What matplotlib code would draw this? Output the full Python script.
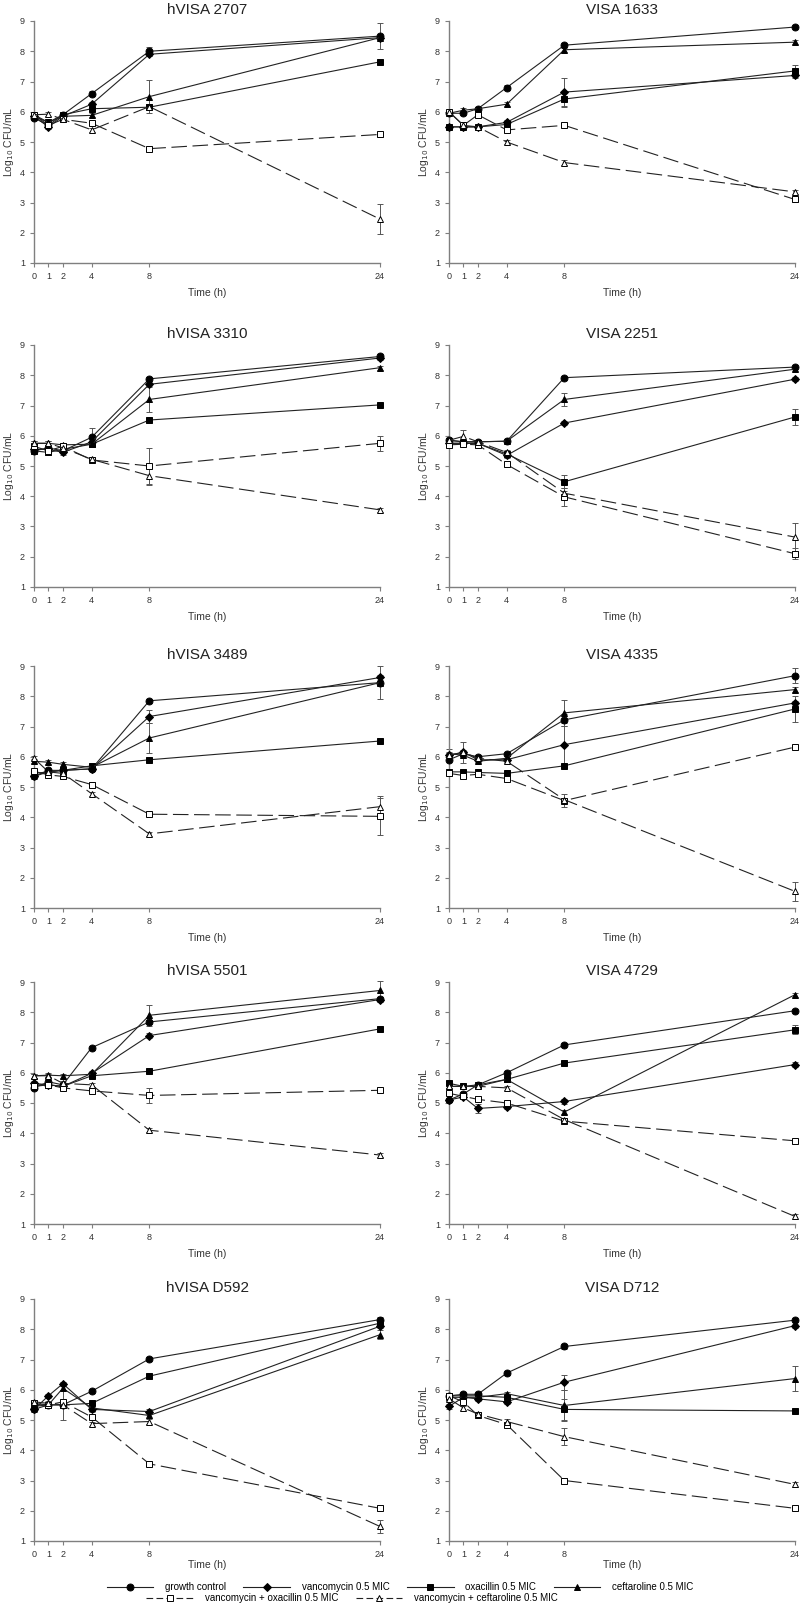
import matplotlib
matplotlib.use('Agg')
import matplotlib.pyplot as plt
from matplotlib.lines import Line2D

plt.rcParams['font.family'] = ['Liberation Sans', 'DejaVu Sans']

times = [0, 1, 2, 4, 8, 24]
titles = ['hVISA 2707', 'VISA 1633', 'hVISA 3310', 'VISA 2251', 'hVISA 3489',
          'VISA 4335', 'hVISA 5501', 'VISA 4729', 'hVISA D592', 'VISA D712']

growth = [[5.8, 5.55, 5.9, 6.6, 8.0, 8.5],
          [5.95, 5.95, 6.1, 6.8, 8.2, 8.8],
          [5.5, 5.6, 5.5, 5.95, 7.88, 8.62],
          [5.85, 5.8, 5.8, 5.82, 7.92, 8.27],
          [5.35, 5.55, 5.55, 5.6, 7.85, 8.45],
          [5.9, 6.1, 6.0, 6.1, 7.22, 8.68],
          [5.5, 5.7, 5.6, 6.83, 7.68, 8.45],
          [5.1, 5.3, 5.6, 6.0, 6.92, 8.05],
          [5.35, 5.5, 5.5, 5.95, 7.02, 8.32],
          [5.8, 5.85, 5.85, 6.55, 7.43, 8.3]]

vanco = [[5.85, 5.5, 5.85, 6.25, 7.9, 8.45],
         [5.5, 5.5, 5.5, 5.65, 6.65, 7.2],
         [5.55, 5.55, 5.45, 5.8, 7.7, 8.57],
         [5.75, 5.75, 5.75, 5.35, 6.42, 7.87],
         [5.35, 5.5, 5.55, 5.6, 7.33, 8.62],
         [6.05, 6.15, 5.9, 5.9, 6.4, 7.78],
         [5.65, 5.6, 5.55, 5.98, 7.23, 8.42],
         [5.1, 5.2, 4.82, 4.88, 5.05, 6.27],
         [5.35, 5.8, 6.2, 5.35, 5.28, 8.1],
         [5.45, 5.75, 5.7, 5.6, 6.25, 8.12]]

oxa = [[5.85, 5.65, 5.9, 6.1, 6.15, 7.65],
       [5.5, 5.5, 5.5, 5.58, 6.42, 7.35],
       [5.5, 5.45, 5.55, 5.72, 6.52, 7.02],
       [5.75, 5.75, 5.75, 5.4, 4.48, 6.62],
       [5.45, 5.5, 5.55, 5.7, 5.9, 6.52],
       [5.5, 5.5, 5.48, 5.45, 5.7, 7.58],
       [5.6, 5.6, 5.55, 5.9, 6.05, 7.45],
       [5.65, 5.55, 5.6, 5.78, 6.32, 7.42],
       [5.5, 5.5, 5.5, 5.55, 6.45, 8.2],
       [5.8, 5.8, 5.8, 5.75, 5.35, 5.3]]

cef = [[5.9, 5.65, 5.85, 5.88, 6.5, 8.45],
       [5.95, 6.05, 6.1, 6.25, 8.05, 8.3],
       [5.75, 5.75, 5.7, 5.72, 7.2, 8.25],
       [5.85, 5.8, 5.8, 5.82, 7.2, 8.2],
       [5.85, 5.82, 5.75, 5.65, 6.62, 8.45],
       [6.1, 6.05, 5.85, 5.95, 7.45, 8.22],
       [5.9, 5.92, 5.9, 5.95, 7.9, 8.72],
       [5.55, 5.55, 5.55, 5.78, 4.7, 8.58],
       [5.45, 5.5, 6.05, 5.4, 5.15, 7.82],
       [5.75, 5.75, 5.75, 5.87, 5.48, 6.37]]

van_oxa = [[5.9, 5.55, 5.75, 5.62, 4.78, 5.25],
           [6.0, 5.55, 5.9, 5.4, 5.55, 3.1],
           [5.65, 5.5, 5.65, 5.2, 5.0, 5.75],
           [5.7, 5.72, 5.7, 5.05, 3.98, 2.1],
           [5.52, 5.4, 5.35, 5.08, 4.1, 4.03],
           [5.45, 5.38, 5.42, 5.28, 4.55, 6.32],
           [5.55, 5.6, 5.5, 5.4, 5.25, 5.42],
           [5.32, 5.22, 5.12, 5.0, 4.4, 3.75],
           [5.55, 5.5, 5.6, 5.1, 3.55, 2.08],
           [5.8, 5.6, 5.15, 4.85, 3.0, 2.08]]

van_cef = [[5.9, 5.92, 5.75, 5.4, 6.17, 2.45],
           [6.0, 5.55, 5.5, 5.0, 4.32, 3.35],
           [5.75, 5.75, 5.6, 5.22, 4.68, 3.55],
           [5.85, 5.98, 5.8, 5.45, 4.1, 2.65],
           [5.95, 5.5, 5.45, 4.78, 3.45, 4.35],
           [6.05, 6.15, 5.95, 5.85, 4.58, 1.55],
           [5.9, 5.9, 5.65, 5.6, 4.1, 3.28],
           [5.55, 5.55, 5.55, 5.5, 4.45, 1.25],
           [5.6, 5.55, 5.5, 4.88, 4.95, 1.48],
           [5.7, 5.4, 5.2, 4.95, 4.45, 2.87]]

labels = ['growth control', 'vancomycin 0.5 MIC', 'oxacillin 0.5 MIC', 'ceftaroline 0.5 MIC',
          'vancomycin + oxacillin 0.5 MIC', 'vancomycin + ceftaroline 0.5 MIC']

# larger standard deviations: (panel, series, time index, sd)
big_err = [(0, 0, 5, 0.42), (0, 3, 4, 0.55), (0, 5, 5, 0.5), (0, 0, 4, 0.15),
           (1, 1, 4, 0.45), (1, 2, 5, 0.2), (1, 2, 4, 0.25),
           (2, 3, 4, 0.4), (2, 4, 4, 0.6), (2, 4, 5, 0.25), (2, 5, 4, 0.3), (2, 0, 3, 0.3),
           (3, 2, 4, 0.22), (3, 2, 5, 0.27), (3, 3, 4, 0.22), (3, 4, 4, 0.3), (3, 5, 5, 0.45),
           (3, 4, 5, 0.18), (3, 5, 1, 0.2),
           (4, 3, 4, 0.5), (4, 3, 5, 0.55), (4, 1, 4, 0.2), (4, 4, 5, 0.62), (4, 5, 5, 0.35),
           (5, 3, 4, 0.42), (5, 0, 4, 0.2), (5, 1, 4, 0.7), (5, 2, 5, 0.42), (5, 0, 5, 0.25),
           (5, 5, 5, 0.32), (5, 4, 4, 0.22), (5, 0, 0, 0.35), (5, 5, 1, 0.35),
           (6, 3, 4, 0.35), (6, 3, 5, 0.3), (6, 4, 4, 0.25),
           (7, 1, 2, 0.15), (7, 2, 5, 0.15),
           (8, 4, 2, 0.6), (8, 5, 5, 0.2), (8, 3, 5, 0.15),
           (9, 3, 4, 0.5), (9, 1, 4, 0.25), (9, 3, 5, 0.4), (9, 2, 4, 0.35), (9, 5, 4, 0.28)]

series = [growth, vanco, oxa, cef, van_oxa, van_cef]
markers = ['o', 'D', 's', '^', 's', '^']
msizes = [5, 4.2, 4.5, 5, 5, 5]
filled = [True, True, True, True, False, False]

fig = plt.figure(figsize=(8, 16.04), dpi=100)
W, H = 800, 1604
tops = [21, 345, 666, 982, 1299]
lefts = [34, 449]
aw, ah = 346, 242
grey = '#7f7f7f'

for p, title in enumerate(titles):
    r, c = divmod(p, 2)
    ax = fig.add_axes([lefts[c] / W, 1 - (tops[r] + ah) / H, aw / W, ah / H])
    for s, data in enumerate(series):
        y = data[p]
        err = [0.07] * len(times)
        for bp, bs, bi, e in big_err:
            if bp == p and bs == s:
                err[bi] = e
        ax.errorbar(times, y, yerr=err, fmt='none', ecolor='#555555', elinewidth=0.7,
                    capsize=2.5, capthick=0.7, clip_on=False, zorder=2)
        ls = '-' if filled[s] else (0, (14, 5))
        ax.plot(times, y, linestyle=ls, color='#222222', lw=0.8,
                marker=markers[s], ms=msizes[s],
                mfc='black' if filled[s] else 'white', mec='black', mew=0.7,
                clip_on=False, zorder=3 if filled[s] else 4)
    ax.set_xlim(0, 24)
    ax.set_ylim(1, 9)
    ax.set_xticks(times)
    ax.set_yticks(range(1, 10))
    for sp in ['top', 'right']:
        ax.spines[sp].set_visible(False)
    for sp in ['left', 'bottom']:
        ax.spines[sp].set_color(grey)
        ax.spines[sp].set_linewidth(1.0)
    ax.tick_params(colors=grey, labelcolor='#333333', labelsize=6.5, length=3, width=0.8)
    ax.set_xlabel('Time (h)', fontsize=7.5, color='#333333', labelpad=5 if r < 4 else 0.5)
    ax.set_ylabel('Log$_{10}$ CFU/mL', fontsize=7.5, color='#333333', labelpad=3)
    ax.set_title(title, fontsize=11, color='#222222', pad=5)

handles = []
for s in range(6):
    ls = '-' if filled[s] else (0, (6, 3))
    handles.append(Line2D([], [], linestyle=ls, color='#222222', lw=0.8, marker=markers[s],
                          ms=msizes[s], mfc='black' if filled[s] else 'white', mec='black', mew=0.7))

leg_font = {'family': ['Liberation Sans Narrow', 'Liberation Sans', 'DejaVu Sans'], 'size': 7}
leg1 = fig.legend(handles[:4], labels[:4], loc='center', bbox_to_anchor=(0.5, 1 - 1587 / H),
                  ncol=4, frameon=False, prop=leg_font, handlelength=4.8, handletextpad=1.2,
                  columnspacing=1.8, borderpad=0)
leg2 = fig.legend(handles[4:], labels[4:], loc='center', bbox_to_anchor=(0.44, 1 - 1598 / H),
                  ncol=2, frameon=False, prop=leg_font, handlelength=4.8, handletextpad=1.2,
                  columnspacing=1.8, borderpad=0)

fig.savefig('out.png', dpi=100)
